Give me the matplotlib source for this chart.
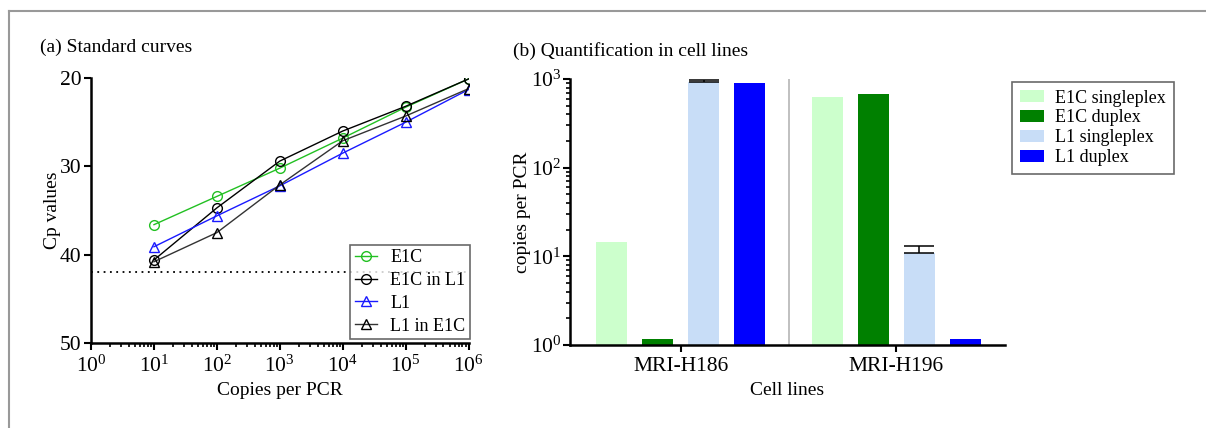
import numpy as np
import matplotlib
matplotlib.use("Agg")
import matplotlib.pyplot as plt
from matplotlib.lines import Line2D
from matplotlib.ticker import LogLocator, NullFormatter

plt.rcParams["font.family"] = ["Liberation Serif", "DejaVu Serif"]
plt.rcParams["mathtext.fontset"] = "stix"

# (a) standard curves
copies = [1e1, 1e2, 1e3, 1e4, 1e5, 1e6]
cp_e1c = [36.6, 33.4, 30.2, 26.8, 23.3, 20.1]
cp_e1c_in_l1 = [40.6, 34.7, 29.4, 26.0, 23.2, 20.1]
cp_l1 = [39.1, 35.6, 32.2, 28.5, 25.0, 21.3]
cp_l1_in_e1c = [40.8, 37.5, 32.1, 27.1, 24.3, 21.2]
cutoff = 42.0

# (b) quantification in cell lines
cell_lines = ["MRI-H186", "MRI-H196"]
series = ["E1C singleplex", "E1C duplex", "L1 singleplex", "L1 duplex"]
values = [[14.6, 626], [1.16, 682], [933, 10.9], [908, 1.16]]
err_up = [[0, 0], [0, 0], [32, 2.0], [0, 0]]
bar_colors = ["#ccffcc", "#008000", "#c8ddf7", "#0000ff"]

fig = plt.figure(figsize=(12.06, 4.28), dpi=100)

# grey frame around the figure
fig.add_artist(Line2D([9 / 1206, 9 / 1206], [0, 1 - 11 / 428], color="#999999", lw=1.5))
fig.add_artist(Line2D([9 / 1206, 1], [1 - 11 / 428, 1 - 11 / 428], color="#999999", lw=1.5))

ax1 = fig.add_axes([0.0755, 0.1986, 0.313, 0.619])
ax1.plot(copies, cp_e1c, "-o", color="#22c022", mfc="none", ms=7, lw=1, label="E1C")
ax1.plot(copies, cp_e1c_in_l1, "-o", color="black", mfc="none", ms=7, lw=1, label="E1C in L1")
ax1.plot(copies, cp_l1, "-^", color="#1a1aff", mfc="none", ms=7, lw=1, label="L1")
ax1.plot(copies, cp_l1_in_e1c, "-^", color="#333333", mfc="none", ms=7, lw=1,
         mec="black", label="L1 in E1C")
ax1.axhline(cutoff, color="black", ls=(0, (1, 2.5)), lw=1.3)
ax1.set_xscale("log")
ax1.set_xlim(1, 1e6)
ax1.set_ylim(50, 20)
ax1.set_yticks([20, 30, 40, 50])
ax1.xaxis.set_major_locator(LogLocator(base=10, numticks=10))
ax1.xaxis.set_minor_locator(LogLocator(base=10, subs=np.arange(2, 10), numticks=20))
ax1.xaxis.set_minor_formatter(NullFormatter())
for s in ["top", "right"]:
    ax1.spines[s].set_visible(False)
for s in ["left", "bottom"]:
    ax1.spines[s].set_linewidth(1.8)
ax1.tick_params(axis="both", which="major", labelsize=15.5, width=1.5, length=5, pad=2)
ax1.tick_params(axis="x", which="major", pad=4)
ax1.tick_params(axis="x", which="minor", width=1.2, length=3)
ax1.set_xlabel("Copies per PCR", fontsize=14, labelpad=4)
ax1.set_ylabel("Cp values", fontsize=14, labelpad=-1)
leg1 = ax1.legend(loc="lower right", bbox_to_anchor=(1.003, 0.015), fontsize=13,
                  frameon=True, fancybox=False, handlelength=1.25, handletextpad=0.7,
                  borderpad=0.25, labelspacing=0.32, borderaxespad=0)
leg1.get_frame().set_edgecolor("#444444")
leg1.get_frame().set_linewidth(1.2)

ax2 = fig.add_axes([0.4726, 0.194, 0.3607, 0.6215])
x = np.arange(len(cell_lines))
offsets = [-0.32, -0.107, 0.107, 0.32]
width = 0.144
for i, name in enumerate(series):
    yerr = np.array([[0, 0], err_up[i]])
    has_err = any(e > 0 for e in err_up[i])
    ax2.bar(x + offsets[i], values[i], width, color=bar_colors[i], label=name,
            yerr=yerr if has_err else None, capsize=11,
            error_kw=dict(ecolor="black", elinewidth=1.1, capthick=1.1))
ax2.axvline(0.5, color="#bbbbbb", lw=1.3)
ax2.set_yscale("log")
ax2.set_ylim(1, 1000)
ax2.set_xlim(-0.515, 1.505)
ax2.set_xticks(x)
ax2.set_xticklabels(cell_lines)
ax2.yaxis.set_minor_locator(LogLocator(base=10, subs=np.arange(2, 10), numticks=20))
ax2.yaxis.set_minor_formatter(NullFormatter())
for s in ["top", "right"]:
    ax2.spines[s].set_visible(False)
for s in ["left", "bottom"]:
    ax2.spines[s].set_linewidth(1.8)
ax2.tick_params(axis="both", which="major", labelsize=15.5, width=1.5, length=5, pad=1)
ax2.tick_params(axis="x", which="major", pad=4)
ax2.tick_params(axis="y", which="minor", width=1.2, length=3)
ax2.set_xlabel("Cell lines", fontsize=14, labelpad=4)
ax2.set_ylabel("copies per PCR", fontsize=14, labelpad=0)
leg2 = ax2.legend(loc="upper left", bbox_to_anchor=(1.017, 0.99), fontsize=13,
                  frameon=True, fancybox=False, handlelength=1.3, handleheight=0.65,
                  handletextpad=0.6, borderpad=0.45, labelspacing=0.15, borderaxespad=0)
leg2.get_frame().set_edgecolor("#444444")
leg2.get_frame().set_linewidth(1.2)

fig.text(40 / 1206, 1 - 47 / 428, "(a) Standard curves", fontsize=14, va="center", ha="left")
fig.text(513 / 1206, 1 - 51 / 428, "(b) Quantification in cell lines", fontsize=14,
         va="center", ha="left")

fig.savefig("out.png", dpi=100)
